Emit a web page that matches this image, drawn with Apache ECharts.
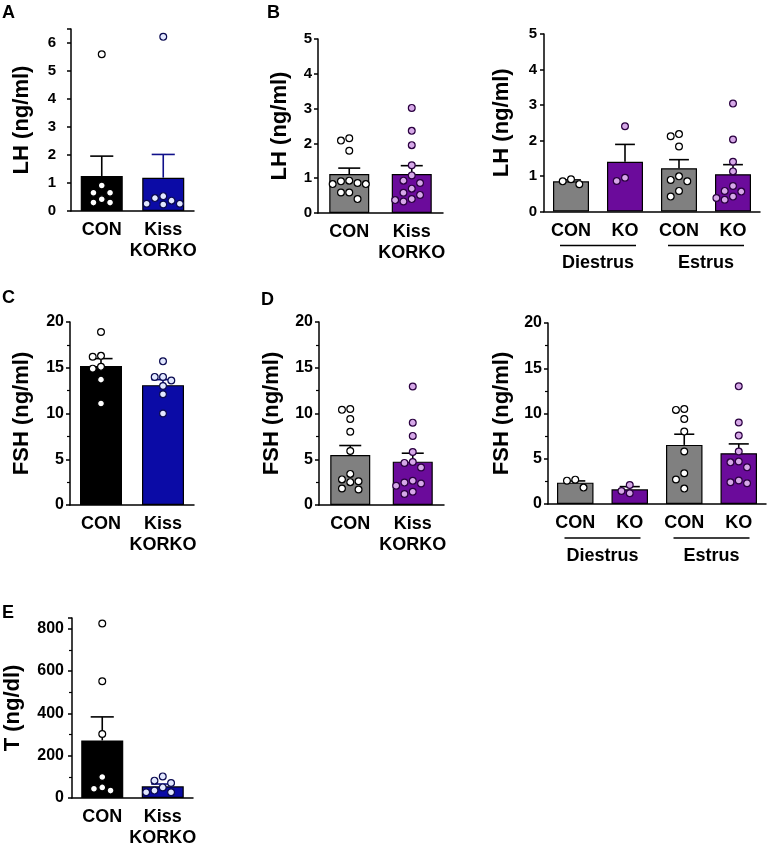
<!DOCTYPE html>
<html><head><meta charset="utf-8">
<script src="https://cdn.jsdelivr.net/npm/echarts@6/dist/echarts.min.js"></script>
<style>html,body{margin:0;padding:0;background:#fff}#c{width:771px;height:853px}</style>
</head><body><div id="c"></div>
<script>
// ---------- DATA ----------
const twoGroupCats = ['CON', 'Kiss\nKORKO'];
const cycleCats = ['CON', 'KO', 'CON', 'KO'];
const cycleGroups = ['Diestrus', 'Estrus'];

// Panel A: LH (males)
const lhMaleMean = [1.25, 1.19];
const lhMaleErrTop = [1.96, 2.02];
const lhMaleCON = [5.6, 0.91, 0.65, 0.65, 0.42, 0.30, 0.30];
const lhMaleKO = [6.22, 0.53, 0.46, 0.37, 0.26, 0.26, 0.23];

// Panel B left: LH (females)
const lhFemMean = [1.12, 1.12];
const lhFemErrTop = [1.29, 1.36];
const lhFemCON = [2.15, 2.08, 1.79, 0.93, 0.91, 0.86, 0.83, 0.83, 0.59, 0.59, 0.40];
const lhFemKO = [3.02, 2.36, 1.95, 1.37, 1.08, 0.93, 0.86, 0.70, 0.58, 0.52, 0.40, 0.37, 0.33];

// Panel B right: LH by cycle stage
const lhCycleMean = [0.85, 1.40, 1.22, 1.05];
const lhCycleErrTop = [0.89, 1.89, 1.46, 1.32];
const lhDiCON = [0.91, 0.85, 0.77];
const lhDiKO = [2.40, 0.95, 0.86];
const lhEsCON = [2.18, 2.12, 1.83, 0.99, 0.89, 0.85, 0.58, 0.42];
const lhEsKO = [3.04, 2.03, 1.40, 1.13, 0.72, 0.58, 0.56, 0.42, 0.38, 0.33];

// Panel C: FSH (males)
const fshMaleMean = [15.2, 13.1];
const fshMaleErrTop = [16.0, 13.7];
const fshMaleCON = [18.9, 16.3, 16.2, 15.1, 14.9, 13.7, 11.1];
const fshMaleKO = [15.7, 14.0, 14.0, 13.6, 13.0, 12.1, 10.0];

// Panel D left: FSH (females)
const fshFemMean = [5.47, 4.74];
const fshFemErrTop = [6.5, 5.66];
const fshFemCON = [10.5, 10.4, 9.4, 8.0, 5.9, 3.4, 2.8, 2.6, 2.5, 1.8, 1.7];
const fshFemKO = [12.95, 9.0, 7.55, 5.8, 4.7, 4.6, 4.1, 2.65, 2.45, 2.35, 2.1, 1.45, 1.2];

// Panel D right: FSH by cycle stage
const fshCycleMean = [2.36, 1.62, 6.53, 5.61];
const fshCycleErrTop = [2.55, 1.92, 7.71, 6.64];
const fshDiCON = [2.69, 2.58, 1.81];
const fshDiKO = [2.1, 1.44, 1.18];
const fshEsCON = [10.5, 10.4, 9.4, 8.0, 5.8, 3.4, 2.7, 1.7];
const fshEsKO = [13.0, 9.0, 7.56, 5.8, 4.7, 4.6, 4.05, 2.6, 2.4, 2.3];

// Panel E: T (males)
const tMean = [272, 55];
const tErrTop = [383, 66];
const tCON = [824, 551, 302, 99, 50, 44, 35];
const tKO = [102, 82, 71, 50, 35, 27, 27];

// ---------- STYLE ----------
const FONT = '"Liberation Sans", Arial, sans-serif';
const PAL = {
  blue:   {bar: ['#000000', '#0b0ba6'], err: ['#000000', '#10108a'],
           pt: [{fill:'#ffffff', stroke:'#000000'}, {fill:'#e2e8ff', stroke:'#0a0a50'}]},
  purple: {bar: ['#808080', '#6b0b9b'], err: ['#000000', '#000000'],
           pt: [{fill:'#ffffff', stroke:'#000000'}, {fill:'#d6a8e8', stroke:'#2a0040'}]}
};

const panels = [
  {letter:'A', lx:2, ly:4, grid:{left:71, top:29, width:123, height:182}, yMax:6.5, interval:1, minor:false,
   name:'LH (ng/ml)', nameGap:38, labelMargin:15, labelSize:15, cats:twoGroupCats, mean:lhMaleMean, err:lhMaleErrTop,
   points:[lhMaleCON, lhMaleKO], pal:'blue', barW:42},
  {letter:'B', lx:267, ly:4, grid:{left:318, top:39, width:125, height:174}, yMax:5, interval:1, minor:false,
   name:'LH (ng/ml)', nameGap:27, labelMargin:6, labelSize:15, cats:twoGroupCats, mean:lhFemMean, err:lhFemErrTop,
   points:[lhFemCON, lhFemKO], pal:'purple', barW:40},
  {grid:{left:544, top:34, width:216, height:177.5}, yMax:5, interval:1, minor:false,
   name:'LH (ng/ml)', nameGap:31, labelMargin:7, labelSize:15, cats:cycleCats, groups:cycleGroups, mean:lhCycleMean, err:lhCycleErrTop,
   points:[lhDiCON, lhDiKO, lhEsCON, lhEsKO], pal:'purple', barW:36},
  {letter:'C', lx:2, ly:289, grid:{left:70, top:322, width:124, height:183}, yMax:20, interval:5, minor:true,
   name:'FSH (ng/ml)', nameGap:37, labelMargin:6, labelSize:16, cats:twoGroupCats, mean:fshMaleMean, err:fshMaleErrTop,
   points:[fshMaleCON, fshMaleKO], pal:'blue', barW:42},
  {letter:'D', lx:261, ly:291, grid:{left:319, top:322, width:125, height:183}, yMax:20, interval:5, minor:true,
   name:'FSH (ng/ml)', nameGap:36, labelMargin:6, labelSize:16, cats:twoGroupCats, mean:fshFemMean, err:fshFemErrTop,
   points:[fshFemCON, fshFemKO], pal:'purple', barW:40},
  {grid:{left:548, top:323, width:218, height:181}, yMax:20, interval:5, minor:true,
   name:'FSH (ng/ml)', nameGap:35, labelMargin:6, labelSize:16, cats:cycleCats, groups:cycleGroups, mean:fshCycleMean, err:fshCycleErrTop,
   points:[fshDiCON, fshDiKO, fshEsCON, fshEsKO], pal:'purple', barW:36.5},
  {letter:'E', lx:2, ly:604, grid:{left:72, top:618, width:121, height:180}, yMax:850, interval:200, minor:true,
   name:'T (ng/dl)', nameGap:48, labelMargin:8, labelSize:16, cats:twoGroupCats, mean:tMean, err:tErrTop,
   points:[tCON, tKO], pal:'blue', barW:42}
];

// simple beeswarm: horizontal offsets (px) so dots do not overlap
function swarm(vals, pxPerUnit, s) {
  const placed = [];
  return vals.map(v => {
    const y = v * pxPerUnit;
    const cands = [0, -1, 1, -2, 2, -3, 3, -4, 4];
    for (const k of cands) {
      const dx = k * s;
      if (placed.every(p => Math.hypot(p.dx - dx, p.y - y) >= s * 0.98)) {
        placed.push({y, dx}); return dx;
      }
    }
    placed.push({y, dx:0}); return 0;
  });
}

const option = {
  animation:false,
  backgroundColor:'#fff',
  textStyle:{fontFamily:FONT},
  title:[], grid:[], xAxis:[], yAxis:[], series:[]
};

const lineAxes = []; // for group underlines
panels.forEach((p, gi) => {
  const pal = PAL[p.pal];
  if (p.letter) option.title.push({text:p.letter, left:p.lx, top:p.ly, padding:0,
      textStyle:{fontSize:18, fontWeight:'bold', color:'#000', fontFamily:FONT}});
  option.grid.push(Object.assign({containLabel:false}, p.grid));
  const xi = option.xAxis.length;
  option.xAxis.push({type:'category', gridIndex:gi, data:p.cats,
    axisLine:{show:true, lineStyle:{color:'#000', width:1.5}}, axisTick:{show:false},
    axisLabel:{interval:0, fontSize:18, fontWeight:'bold', color:'#000', lineHeight:21, margin:9, fontFamily:FONT}});
  if (p.groups) {
    option.xAxis.push({type:'category', gridIndex:gi, data:p.groups, position:'bottom', offset:35,
      axisLine:{show:false}, axisTick:{show:false},
      axisLabel:{interval:0, fontSize:18, fontWeight:'bold', color:'#000', margin:8, fontFamily:FONT}});
    lineAxes.push({xi, yi:gi, n:p.cats.length});
  }
  const interval = p.interval;
  option.yAxis.push({type:'value', gridIndex:gi, min:0, max:p.yMax, interval:interval,
    name:p.name, nameLocation:'middle', nameGap:p.nameGap,
    nameTextStyle:{fontSize:22, fontWeight:'bold', color:'#000', fontFamily:FONT},
    axisLine:{show:true, lineStyle:{color:'#000', width:1.5}},
    axisTick:{show:true, length:4, lineStyle:{color:'#000', width:1.5}},
    minorTick:{show:p.minor, splitNumber:2, length:3, lineStyle:{color:'#000', width:1.2}},
    splitLine:{show:false},
    axisLabel:{fontSize:p.labelSize, fontWeight:'bold', color:'#000', margin:p.labelMargin, fontFamily:FONT,
      formatter: v => (Math.abs(v / interval - Math.round(v / interval)) < 1e-9 ? String(v) : '')}});

  // bars
  option.series.push({type:'bar', xAxisIndex:xi, yAxisIndex:gi, barWidth:p.barW, z:2,
    data:p.mean.map((v, i) => ({value:v, itemStyle:{color:pal.bar[i % 2], borderColor:'#000', borderWidth:1.2}}))});

  // error bars (upper SEM)
  const capW = p.barW * 0.55;
  option.series.push({type:'custom', xAxisIndex:xi, yAxisIndex:gi, z:3,
    data:p.mean.map((v, i) => [i, v, p.err[i]]),
    renderItem:(params, api) => {
      const i = api.value(0);
      const b = api.coord([i, api.value(1)]);
      const t = api.coord([i, api.value(2)]);
      const col = pal.err[i % 2];
      const st = {stroke:col, lineWidth:1.6};
      return {type:'group', children:[
        {type:'line', shape:{x1:b[0], y1:b[1], x2:t[0], y2:t[1]}, style:st},
        {type:'line', shape:{x1:t[0] - capW / 2, y1:t[1], x2:t[0] + capW / 2, y2:t[1]}, style:st}
      ]};
    }});

  // individual points
  const pxPerUnit = p.grid.height / p.yMax;
  [0, 1].forEach(kind => {
    const data = [];
    p.points.forEach((vals, ci) => {
      if (ci % 2 !== kind) return;
      const offs = swarm(vals, pxPerUnit, 8.3);
      vals.forEach((v, k) => data.push({value:[ci, v], symbolOffset:[offs[k], 0]}));
    });
    option.series.push({type:'scatter', xAxisIndex:xi, yAxisIndex:gi, z:4, symbol:'circle', symbolSize:6.8,
      itemStyle:{color:pal.pt[kind].fill, borderColor:pal.pt[kind].stroke, borderWidth:1.2, opacity:1},
      data});
  });
});

const chart = echarts.init(document.getElementById('c'), null, {renderer:'canvas'});
chart.setOption(option);

// underlines for cycle-stage groups, positioned from the axes
const graphics = [];
lineAxes.forEach(a => {
  for (let g = 0; g < a.n / 2; g++) {
    const p0 = chart.convertToPixel({xAxisIndex:a.xi, yAxisIndex:a.yi}, [2 * g, 0]);
    const p1 = chart.convertToPixel({xAxisIndex:a.xi, yAxisIndex:a.yi}, [2 * g + 1, 0]);
    const mid = (p0[0] + p1[0]) / 2;
    const y = p0[1] + 34;
    graphics.push({type:'line', shape:{x1:mid - 38, y1:y, x2:mid + 38, y2:y},
      style:{stroke:'#000', lineWidth:1.5}});
  }
});
chart.setOption({graphic:graphics});
</script>
</body></html>
